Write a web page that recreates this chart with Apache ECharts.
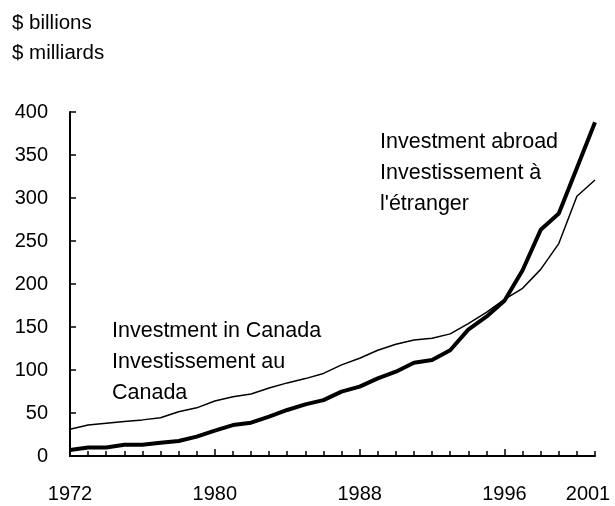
<!DOCTYPE html>
<html>
<head>
<meta charset="utf-8">
<script src="https://cdn.jsdelivr.net/npm/echarts@6/dist/echarts.min.js"></script>
<style>
  html, body { margin: 0; padding: 0; background: #fff; }
  #chart { width: 615px; height: 506px; }
</style>
</head>
<body>
<div id="chart"></div>
<script>
const years = ['1972','1973','1974','1975','1976','1977','1978','1979','1980','1981',
  '1982','1983','1984','1985','1986','1987','1988','1989','1990','1991',
  '1992','1993','1994','1995','1996','1997','1998','1999','2000','2001']
const labelYears = ['1972', '1980', '1988', '1996', '2001']
// Investment abroad (thick line)
const abroad = [7, 10, 10, 13, 13, 15.5, 17.5, 22.5, 29.5, 36,
  38.7, 45.7, 53.5, 60, 65, 74.8, 80.6, 90.3, 98, 108.5,
  111.6, 123, 147, 162, 180.6, 216, 263, 282, 335, 388]
// Investment in Canada (thin line)
const inCanada = [31, 36, 38, 40, 42, 44.5, 51.5, 56, 64, 69,
  72, 79, 85, 90, 96, 106, 113.6, 123, 130, 135,
  137, 142, 154, 167, 182, 195, 217, 247, 302, 321]

const font = 'Liberation Sans, Arial, sans-serif'
const chart = echarts.init(document.getElementById('chart'))

const textEl = (x, y, s, size) => ({
  type: 'text', x: x, y: y,
  style: { text: s, font: size + 'px ' + font, fill: '#000', textVerticalAlign: 'middle' }
})

chart.setOption({
  backgroundColor: '#fff',
  animation: false,
  grid: { left: 70, right: 20, top: 112, bottom: 50 },
  xAxis: [
    {
      type: 'category', data: years, boundaryGap: false,
      axisLine: { lineStyle: { color: '#000', width: 2 } },
      axisTick: { inside: true, length: 5, interval: 0, lineStyle: { color: '#000', width: 1.5 } },
      axisLabel: { show: false },
      splitLine: { show: false }
    },
    {
      type: 'category', data: years, boundaryGap: false, position: 'bottom',
      axisLine: { show: false },
      axisTick: {
        inside: true, length: 7, lineStyle: { color: '#000', width: 1.5 },
        interval: (i) => i % 8 === 0
      },
      axisLabel: {
        interval: (i, v) => labelYears.includes(v),
        margin: 28, color: '#000', fontFamily: font, fontSize: 20,
        formatter: (v) => v === '2001' ? '{r|' + v + '}' : v,
        rich: { r: { fontFamily: font, fontSize: 20, color: '#000', padding: [0, 14, 0, 0] } }
      },
      splitLine: { show: false }
    }
  ],
  yAxis: {
    type: 'value', min: 0, max: 400, interval: 50,
    axisLine: { show: true, lineStyle: { color: '#000', width: 2 } },
    axisTick: { show: true, inside: true, length: 6, lineStyle: { color: '#000', width: 1.5 } },
    axisLabel: { color: '#000', fontFamily: font, fontSize: 20, margin: 22 },
    splitLine: { show: false }
  },
  series: [
    {
      name: 'Investment in Canada', type: 'line', data: inCanada,
      showSymbol: false, lineStyle: { color: '#000', width: 1.5 }
    },
    {
      name: 'Investment abroad', type: 'line', data: abroad,
      showSymbol: false, lineStyle: { color: '#000', width: 4 }
    }
  ],
  graphic: [
    textEl(12, 23, '$ billions', 20.5),
    textEl(12, 53, '$ milliards', 20.5),
    textEl(380, 142, 'Investment abroad', 21.5),
    textEl(380, 173, 'Investissement à', 21.5),
    textEl(380, 204, "l'étranger", 21.5),
    textEl(112, 331, 'Investment in Canada', 21.5),
    textEl(112, 362, 'Investissement au', 21.5),
    textEl(112, 393, 'Canada', 21.5)
  ]
})
</script>
</body>
</html>
